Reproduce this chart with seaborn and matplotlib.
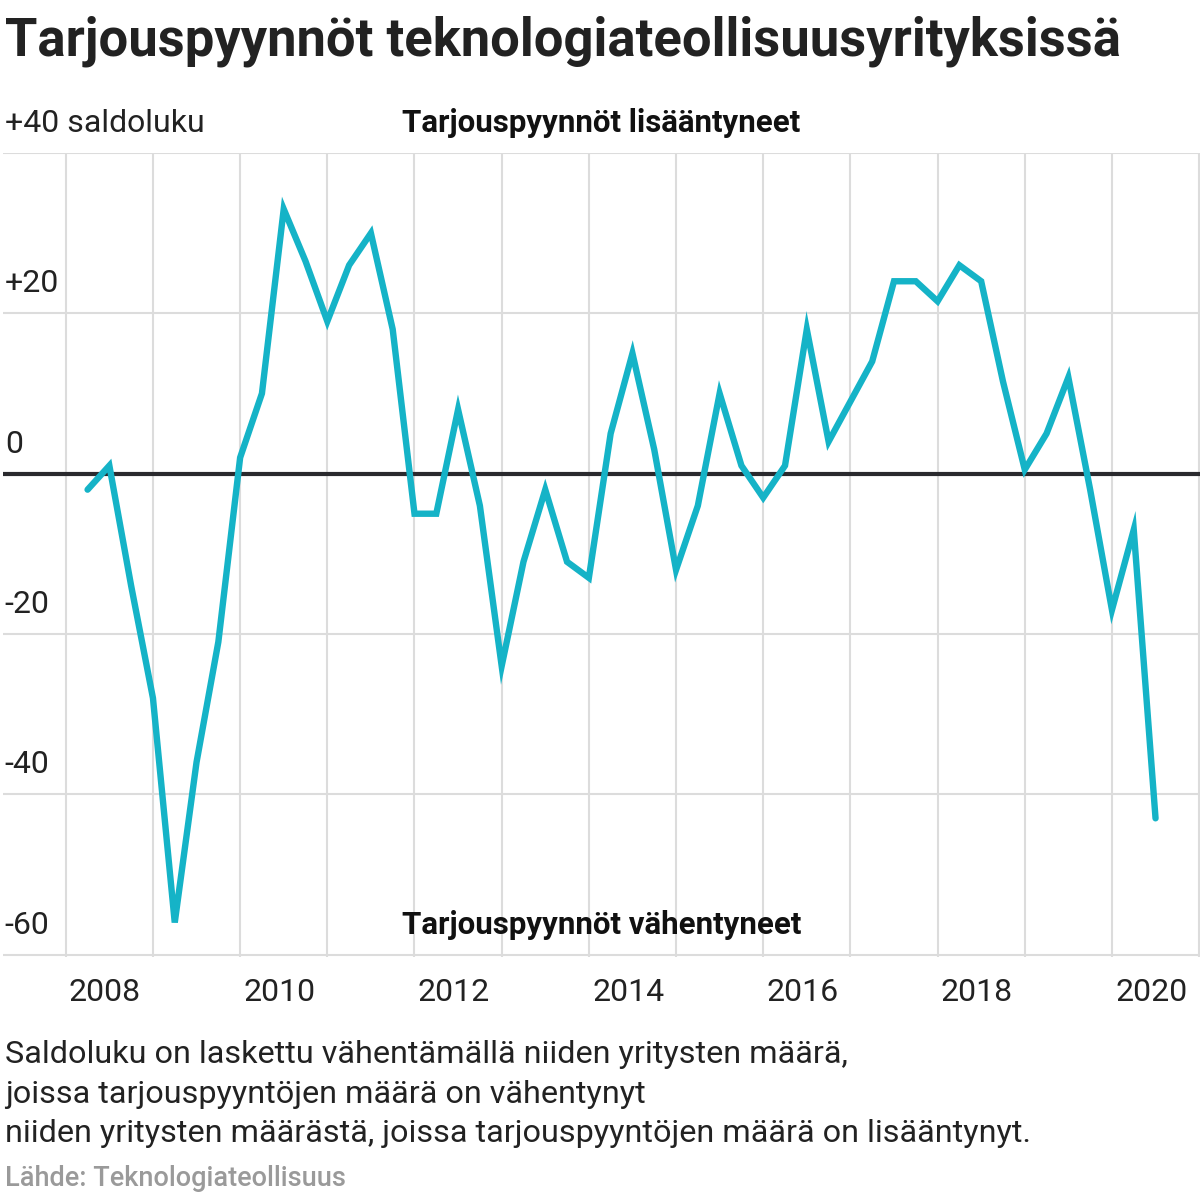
import pandas as pd
import numpy as np
import matplotlib
matplotlib.use("Agg")
import matplotlib.pyplot as plt
import matplotlib.transforms as mtransforms
import seaborn as sns

# Quarterly balance figures, 2008Q1 - 2020Q2
quarters = pd.period_range("2008Q1", "2020Q2", freq="Q")
saldo = [-2, 1, -14, -28, -56, -36, -21, 2,
         10, 33, 26.5, 19, 26, 30, 18, -5,
         -5, 8, -4, -24, -11, -2, -11, -13,
         5, 15, 3, -12, -4, 10, 1, -3,
         1, 18, 4, 9, 14, 24, 24, 21.5,
         26, 24, 11.5, 0.5, 5, 12, -2, -17,
         -7, -43]

year_labels = ["2008", "2010", "2012", "2014", "2016", "2018", "2020"]
y_ticks = [40, 20, 0, -20, -40, -60]
y_tick_labels = ["+40 saldoluku", "+20", "0", "-20", "-40", "-60"]

title = "Tarjouspyynnöt teknologiateollisuusyrityksissä"
label_up = "Tarjouspyynnöt lisääntyneet"
label_down = "Tarjouspyynnöt vähentyneet"
note = ("Saldoluku on laskettu vähentämällä niiden yritysten määrä,\n"
        "joissa tarjouspyyntöjen määrä on vähentynyt\n"
        "niiden yritysten määrästä, joissa tarjouspyyntöjen määrä on lisääntynyt.")
source = "Lähde: Teknologiateollisuus"

df = pd.DataFrame({
    "t": [q.year + q.quarter / 4 for q in quarters],
    "saldo": saldo,
})

sns.set_theme(style="white")
plt.rcParams["font.family"] = ["Roboto", "DejaVu Sans"]

LINE = "#15b3c7"
TEXT = "#222222"
GRID = "#dcdcdc"

fig = plt.figure(figsize=(12, 12), dpi=100)
ax = fig.add_axes([0.0025, 0.2025, 0.9975, 0.67])

# grid: yearly verticals, 20-step horizontals
for yr in range(2008, 2022):
    ax.axvline(yr, color=GRID, lw=1.5, zorder=0)
for v in y_ticks:
    if v != 0:
        ax.axhline(v, color=GRID, lw=1.5, zorder=0)
ax.axhline(0, color="#2a2a2e", lw=3, zorder=1)

sns.lineplot(data=df, x="t", y="saldo", ax=ax, color=LINE, lw=4.6,
             solid_joinstyle="miter", zorder=3)

ax.set_xlim(2007.28, 2021.01)
ax.set_ylim(-60.3, 40)
for s in ax.spines.values():
    s.set_visible(False)
ax.set_xlabel("")
ax.set_ylabel("")
ax.set_yticks([])
ax.set_xticks([int(y) + 0.45 for y in year_labels])
ax.set_xticklabels(year_labels, fontsize=23, color=TEXT)
ax.tick_params(axis="x", length=0, pad=15)

# y labels sit above their grid line
trans = mtransforms.blended_transform_factory(ax.transAxes, ax.transData)
off = mtransforms.offset_copy(trans, fig=fig, x=0, y=15, units="dots")
for v, lab in zip(y_ticks, y_tick_labels):
    ax.text(0.0015, v, lab, transform=off, fontsize=23, color=TEXT,
            ha="left", va="bottom")

ax.text(0.5, 40, label_up, transform=off, fontsize=22.5, fontweight="bold",
        color="#111111", ha="center", va="bottom")
ax.text(0.5, -60, label_down, transform=off, fontsize=22.5, fontweight="bold",
        color="#111111", ha="center", va="bottom")

fig.text(0.004, 0.987, title, fontsize=37.8, fontweight="bold", color=TEXT,
         ha="left", va="top")
fig.text(0.004, 0.133, note, fontsize=23.3, color=TEXT, ha="left", va="top",
         linespacing=1.45)
fig.text(0.004, 0.007, source, fontsize=19.5, color="#9a9a9a",
         fontweight="medium", ha="left", va="bottom")

fig.savefig("out.png", dpi=100)
plt.close(fig)
